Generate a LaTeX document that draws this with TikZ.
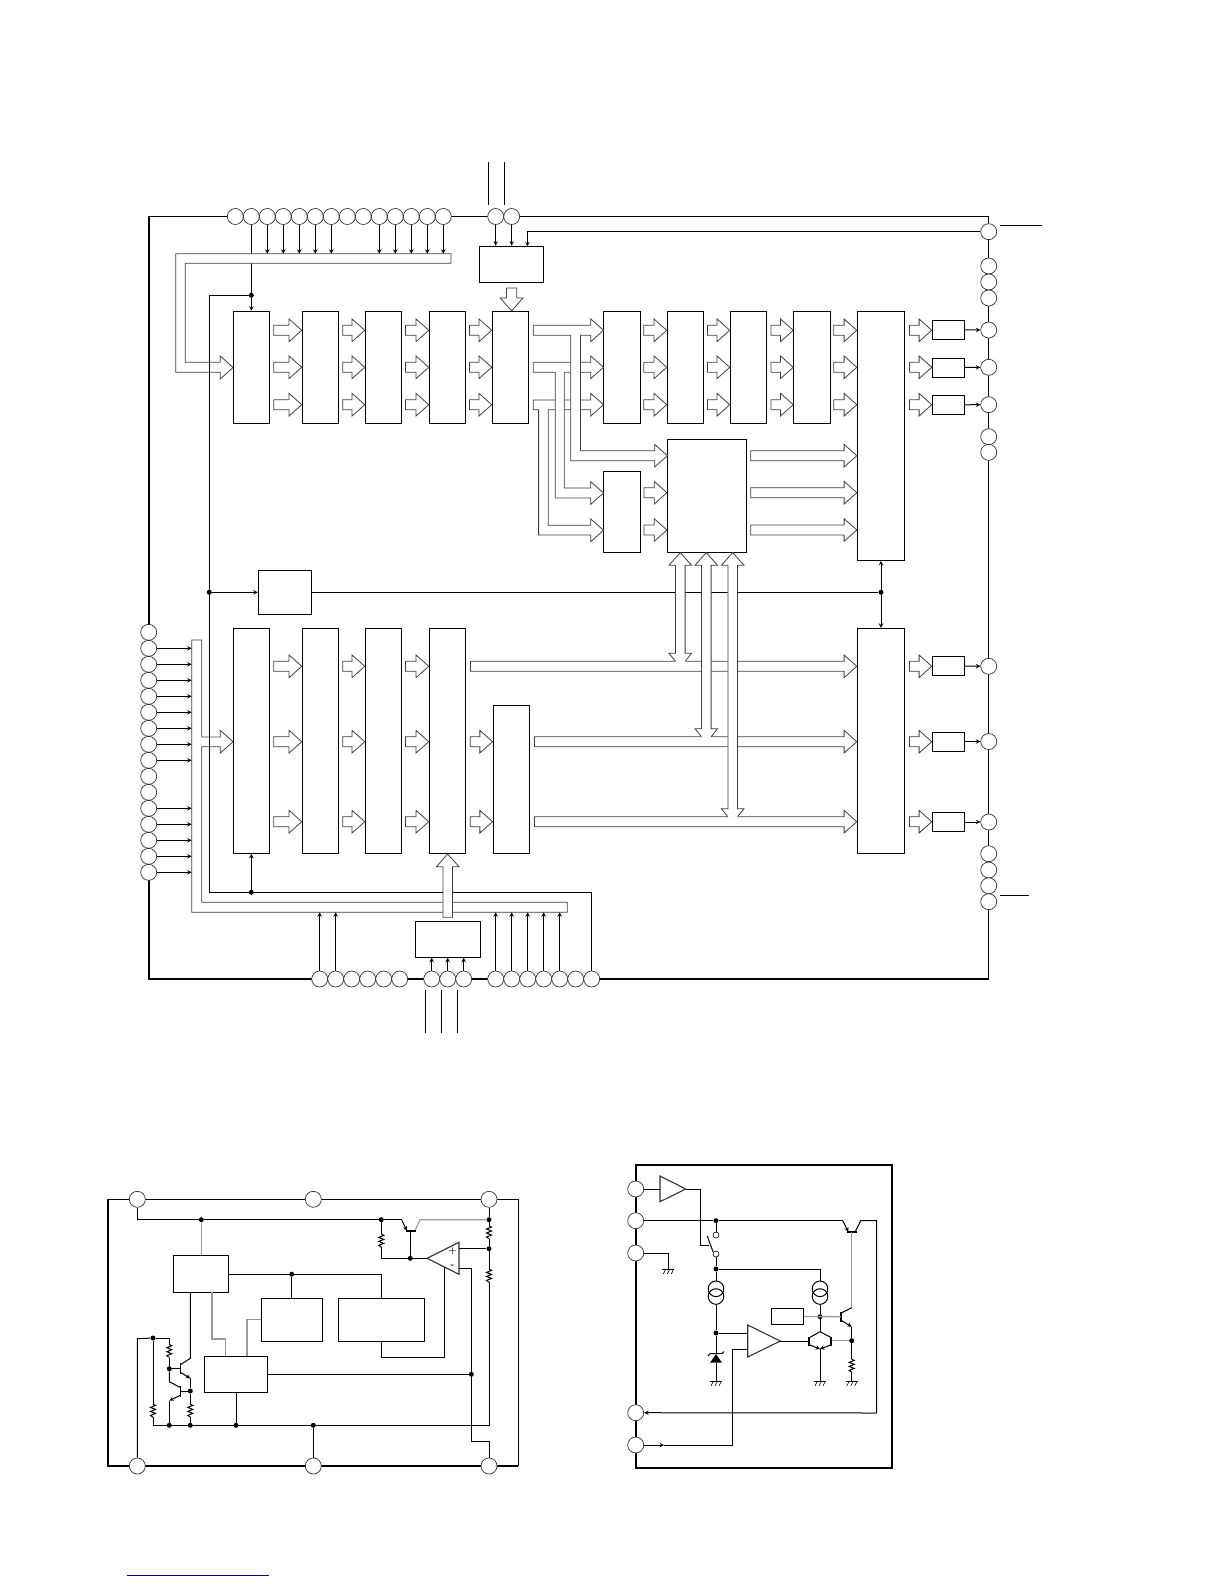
\documentclass[tikz,border=0pt]{standalone}
\usepackage{xcolor}
\usetikzlibrary{positioning}

\newcommand{\busarrow}[3]{%
  \coordinate (rowy) at (0,#2);
  \draw[bus] (#1.west |- rowy) -- ++(-12.7,-11.3) -- ++(0,6.3) -- ++(-#3,0) -- ++(0,10) -- ++(#3,0) -- ++(0,6.3) -- cycle;}
\newcommand{\dualbus}[2]{%
  \fill[white] (#1,552.6) -- ({#1+11.3},565.3) -- ({#1+4.8},565.3) -- ({#1+4.8},{#2-8}) -- ({#1+11.3},{#2-8}) -- ({#1+4.8},{#2+1}) -- ({#1-4.8},{#2+1}) -- ({#1-11.3},{#2-8}) -- ({#1-4.8},{#2-8}) -- ({#1-4.8},565.3) -- ({#1-11.3},565.3) -- cycle;
  \draw[bus] ({#1+4.8},#2) -- ({#1+11.3},{#2-8}) -- ({#1+4.8},{#2-8}) -- ({#1+4.8},565.3) -- ({#1+11.3},565.3) -- (#1,552.6) -- ({#1-11.3},565.3) -- ({#1-4.8},565.3) -- ({#1-4.8},{#2-8}) -- ({#1-11.3},{#2-8}) -- ({#1-4.8},#2);}
\newcommand{\resistor}[2]{%
  \fill[white] ({#1-3.5},{#2-6.5}) rectangle ({#1+3.5},{#2+6.5});
  \draw[wire] (#1,{#2-6.5}) -- ++(2.5,1.2) -- ++(-5,2) -- ++(5,2) -- ++(-5,2) -- ++(5,2) -- ++(-5,2) -- ++(2.5,1.8);}
\newcommand{\earth}[2]{%
  \draw[wire] ({#1-6},#2) -- ({#1+6},#2);
  \foreach \t in {-2.5,1.5,5.5} \draw[wire, line width=.6pt] ({#1+\t},#2) -- ++(-2.5,5);}

\begin{document}
\begin{tikzpicture}[
    x=1pt, y=-1pt,
    block/.style={draw, rectangle, line width=1pt, fill=white, inner sep=0pt},
    topcell/.style={block, minimum width=36.5pt, minimum height=112pt},
    lowcell/.style={block, minimum width=36.5pt, minimum height=225pt},
    outcell/.style={block, minimum width=32.4pt, minimum height=19pt},
    pad/.style={draw=black!80, circle, line width=.7pt, fill=white, inner sep=0pt, minimum size=16pt},
    contact/.style={draw, circle, line width=.6pt, fill=white, inner sep=0pt, minimum size=6pt},
    junction/.style={circle, fill=black, inner sep=0pt, minimum size=5pt},
    wire/.style={line width=1pt},
    feed/.style={wire,->,>=stealth},
    pale/.style={line width=1.1pt, draw=black!40},
    bar/.style={line width=1.6pt},
    bus/.style={draw=black!75, line width=.8pt, fill=white}
]
  \useasboundingbox (0,0) rectangle (1224,1584);

  % Main frame
  \draw[line width=1.2pt] (149,216.5) -- (988.7,216.5) -- (988.7,979);
  \draw[line width=2.4pt] (149,216) -- (149,979) -- (988.7,979);

  % Pads
  \foreach \n in {0,...,13} \node (t\n) [pad] at ({235.3+16*\n},216.5) {};
  \node (u0) [pad] at (495.7,216.5) {};
  \node (u1) [pad] at (511.7,216.5) {};
  \foreach \n/\y in {0/231.7,1/266,2/282,3/298,4/330,5/367.3,6/404.7,7/436.7,8/452.3,9/666.3,10/741.5,11/822,12/853.7,13/870,14/885.7,15/901.7}
    \node (r\n) [pad] at (988.7,\y) {};
  \foreach \n in {0,...,15} \node (l\n) [pad] at (148.7,{632.3+16*\n}) {};
  \foreach \n in {0,...,5} \node (b\n) [pad] at ({319.7+16*\n},979) {};
  \foreach \n in {0,1,2} \node (c\n) [pad] at ({431.7+16*\n},979) {};
  \foreach \n in {0,...,6} \node (e\n) [pad] at ({495.7+16*\n},979) {};

  % Blocks
  \foreach \n/\x in {1/251.3,2/320.5,3/383.5,4/447.5,5/510.5,6/622.1,7/685.5,8/748.5,9/812}
    \node (a\n) [topcell] at (\x,367.3) {};
  \foreach \n/\x in {1/251.3,2/320.5,3/383.5,4/447.5}
    \node (d\n) [lowcell] at (\x,740.8) {};
  \node (d5) [lowcell, minimum height=148pt] at (511.3,779.3) {};
  \node (mixa) [block, minimum width=47.4pt, minimum height=249pt] at (881,435.8) {};
  \node (mixb) [block, minimum width=47.4pt, minimum height=225pt] at (881,740.8) {};
  \node (sela) [block, minimum width=64.4pt, minimum height=36pt] at (511.5,264.3) {};
  \node (selb) [block, minimum width=65.4pt, minimum height=36pt] at (448,939.3) {};
  \node (core) [block, minimum width=79.4pt, minimum height=113pt] at (707.1,495.8) {};
  \node (side) [block, minimum width=37pt, minimum height=81pt] at (622.1,511.8) {};
  \node (clk) [block, minimum width=53.4pt, minimum height=44pt] at (285,592.3) {};
  \foreach \n/\y in {1/329.8,2/367.5,3/404.8,4/666,5/741.5,6/822}
    \node (o\n) [outcell] at (948.5,\y) {};

  % Wires under the buses
  \coordinate (busa) at (0,253.7);
  \coordinate (busb) at (0,263.3);
  \coordinate (busc) at (0,912.3);
  \node (j1) [junction] at (251.3,295.3) {};
  \node (j2) [junction] at (209.3,592.3) {};
  \node (j3) [junction] at (251.3,892.3) {};
  \node (j4) [junction] at (881,592.3) {};
  \draw[wire] (t1) -- (t1 |- busa);
  \draw[wire] (t1 |- busb) -- (j1);
  \draw[feed] (j1) -- (a1);
  \draw[wire] (clk) -- (j4);
  \draw[feed] (j4) -- (mixa);
  \draw[feed] (j4) -- (mixb);

  % Upper bus and left bus
  \draw[bus] (451,253.7) -- (175.7,253.7) -- (175.7,372.3) -- (220.3,372.3) -- (220.3,379) -- (233,367.5) -- (220.3,356) -- (220.3,362.3) -- (185.3,362.3) -- (185.3,263.3) -- (451,263.3) -- cycle;
  \draw[bus] (191.7,640) -- (191.7,912.3) -- (567.3,912.3) -- (567.3,902.3) -- (201.7,902.3) -- (201.7,746.7) -- (220.3,746.7) -- (220.3,753) -- (233,741.7) -- (220.3,730.4) -- (220.3,737) -- (201.7,737) -- (201.7,640) -- cycle;

  % Arrows in the upper row
  \foreach \t/\L in {a2/15.3,a3/9.3,a4/10.6,a5/9.6,a7/10.3,a8/9.6,a9/9.6,mixa/10.3}
    \foreach \y in {330.3,367.3,404.7} { \busarrow{\t}{\y}{\L} }
  \busarrow{o1}{330.3}{9.6}
  \busarrow{o2}{367.3}{9.6}
  \busarrow{o3}{404.7}{9.6}

  % Arrows in the lower row
  \foreach \t/\L in {d2/15.3,d3/9.3,d4/10.6}
    \foreach \y in {666.3,741.7,821.7} { \busarrow{\t}{\y}{\L} }
  \busarrow{d5}{741.7}{9.6}
  \busarrow{d5}{821.7}{9.6}
  \busarrow{o4}{666.3}{9.6}
  \busarrow{o5}{741.7}{9.6}
  \busarrow{o6}{821.7}{9.6}

  % Core arrows
  \busarrow{core}{492.7}{10.3}
  \busarrow{core}{530}{10.3}
  \foreach \y in {455.7,492.7,530} { \busarrow{mixa}{\y}{93.4} }

  % Branching buses
  \draw[bus] (533.3,400) -- (590.8,400) -- (590.8,393.4) -- (603.5,404.7) -- (590.8,416) -- (590.8,409.7) -- (548.3,409.7) -- (548.3,525.3) -- (590.8,525.3) -- (590.8,519) -- (603.5,530.3) -- (590.8,541.6) -- (590.8,535) -- (538.6,535) -- (538.6,409.7) -- (533.3,409.7) -- cycle;
  \draw[bus] (533.3,362.3) -- (590.8,362.3) -- (590.8,356) -- (603.5,367.3) -- (590.8,378.6) -- (590.8,372.3) -- (564.3,372.3) -- (564.3,488) -- (590.8,488) -- (590.8,481.7) -- (603.5,493) -- (590.8,504.3) -- (590.8,498) -- (555.3,498) -- (555.3,372.3) -- (533.3,372.3) -- cycle;
  \draw[bus] (533.3,325.3) -- (590.8,325.3) -- (590.8,319) -- (603.5,330.3) -- (590.8,341.6) -- (590.8,335.3) -- (580.5,335.3) -- (580.5,450.7) -- (654.7,450.7) -- (654.7,444.4) -- (667.4,455.7) -- (654.7,467) -- (654.7,460.7) -- (570.7,460.7) -- (570.7,335.3) -- (533.3,335.3) -- cycle;

  % Long buses and the double ones
  \busarrow{mixb}{666.3}{373.6}
  \busarrow{mixb}{741.7}{309.6}
  \busarrow{mixb}{821.7}{309.6}
  \dualbus{680.3}{661.3}
  \dualbus{706.3}{736.7}
  \dualbus{732.7}{816.7}

  % Selector arrows
  \draw[bus] (506.5,288) -- (516.7,288) -- (516.7,298) -- (522.9,298) -- (511.6,311) -- (500.3,298) -- (506.5,298) -- cycle;
  \draw[wire] (j3) -- (591.7,892.3) -- (e6);
  \draw[bus] (443,917.3) -- (443,866.7) -- (436.4,866.7) -- (447.7,854) -- (459,866.7) -- (452.4,866.7) -- (452.4,917.3) -- cycle;

  % Pad wires
  \foreach \n in {2,...,6,9,10,...,13} \draw[feed] (t\n) -- (t\n |- busa);
  \draw[feed] (u0) -- (u0 |- sela.north);
  \draw[feed] (u1) -- (u1 |- sela.north);
  \coordinate (selin) at (527.4,246.3);
  \draw[feed] (r0) -- (r0 -| selin) -- (selin);
  \foreach \n in {1,...,8,11,12,...,15} \draw[feed] (l\n) -- (191.7,{632.3+16*\n});
  \foreach \n in {0,1} \draw[feed] (b\n) -- (b\n |- busc);
  \foreach \n in {0,...,4} \draw[feed] (e\n) -- (e\n |- busc);
  \foreach \n in {0,1,2} \draw[feed] (c\n) -- (c\n |- selb.south);
  \draw[wire] (209.3,295.3) -- (j1);
  \draw[wire] (209.3,295.3) -- (209.3,892.3) -- (j3);
  \draw[feed] (j2) -- (clk);
  \draw[feed] (j3) -- (d1);
  \draw[feed] (o1) -- (r4);
  \draw[feed] (o2) -- (r5);
  \draw[feed] (o3) -- (r6);
  \draw[feed] (o4) -- (r9);
  \draw[feed] (o5) -- (r10);
  \draw[feed] (o6) -- (r11);

  % Open ends
  \foreach \x in {488.7,504.3} \draw[wire] (\x,162) -- (\x,205);
  \foreach \x in {425.3,441.3,457.3} \draw[wire] (\x,990) -- (\x,1032.7);
  \draw[wire] (1000,225) -- (1042,225);
  \draw[wire] (1000,895.3) -- (1029,895.3);

  % Left regulator
  \draw[line width=1.2pt] (107.7,1199.3) -- (518.3,1199.3) -- (518.3,1465.7);
  \draw[line width=2.2pt] (107.7,1199.3) -- (107.7,1465.7) -- (518.3,1465.7);
  \node (p1) [pad] at (137.3,1199.3) {};
  \node (p2) [pad] at (313.3,1199.3) {};
  \node (p3) [pad] at (489,1199.3) {};
  \node (p4) [pad] at (137.3,1466) {};
  \node (p5) [pad] at (313.3,1466) {};
  \node (p6) [pad] at (489,1466) {};
  \node (ra) [block, minimum width=55pt, minimum height=37pt] at (200.8,1273.8) {};
  \node (rb) [block, minimum width=61pt, minimum height=43pt] at (291.8,1319.8) {};
  \node (rc) [block, minimum width=86pt, minimum height=43pt] at (381.3,1319.8) {};
  \node (rd) [block, minimum width=63pt, minimum height=36pt] at (235.8,1374.3) {};
  \node (q1) [junction] at (201.3,1219.7) {};
  \node (q2) [junction] at (381.3,1219.7) {};
  \node (q3) [junction] at (489,1219.7) {};
  \node (q4) [junction] at (489,1248.7) {};
  \node (q5) [junction] at (410.3,1258.3) {};
  \node (q6) [junction] at (291.7,1274.2) {};
  \node (q7) [junction] at (153,1338) {};
  \node (q8) [junction] at (169.3,1368.7) {};
  \node (q9) [junction] at (190.3,1391) {};
  \node (q10) [junction] at (471.3,1374.3) {};
  \node (q11) [junction] at (169.3,1425.3) {};
  \node (q12) [junction] at (190.3,1425.3) {};
  \node (q13) [junction] at (236,1425.3) {};
  \node (q14) [junction] at (313.3,1425.3) {};
  \coordinate (amptip) at (427,1258.3);
  \draw[line width=1.1pt, draw=black!80] (amptip) -- (459,1242.3) -- (459,1274.3) -- cycle;
  \node (plus) [inner sep=0pt, font=\small\bfseries] at (452.5,1251) {+};
  \node (minus) [inner sep=0pt, font=\small\bfseries] at (452.5,1266) {-};
  \draw[wire] (p1) |- (q1) -- (q2) -- (401.7,1219.7);
  \draw[feed] (401.7,1219.7) -- (406.7,1230.7);
  \draw[pale] (415,1230.7) -- (420,1219.7) -- (q3);
  \draw[bar] (405.7,1230.7) -- (415.7,1230.7);
  \draw[wire] (410.3,1230.7) -- (q5);
  \draw[wire] (p3) -- (q3) -- (q4) -- (489,1425.3) -- (153,1425.3) -- (q7) -- (169.3,1338) -- (q8);
  \draw[wire] (p4) -- (137.3,1338.7) -- (q7);
  \draw[wire] (q2) -- (381.3,1258.3) -- (amptip);
  \draw[wire] (q4) -- (459,1248.7);
  \draw[wire] (459,1268.3) -- (471.3,1268.3) -- (471.3,1441.7) -- (489,1441.7) -- (p6);
  \draw[wire] (q14) -- (p5);
  \draw[pale] (q1) -- (q1 |- ra.north);
  \draw[wire] (ra.east |- q6) -- (q6) -- (381.3,1274.2) -- (rc.north);
  \draw[wire] (q6) -- (q6 |- rb.north);
  \draw[wire] (rc.south) -- (381.3,1357.3) -- (444.3,1357.3) -- (444.3,1267);
  \draw[wire] (rd.east) -- (q10);
  \draw[wire] (q13) -- (q13 |- rd.south);
  \draw[pale] (212,1292.3) -- (212,1339) -- (225.7,1339) -- (225.7,1356.3);
  \draw[pale] (rb.west) -- (247,1319.8) -- (247,1356.3);
  \draw[wire] (190.3,1292.3) -- (190.3,1358.3) -- (181,1364.3);
  \draw[feed] (181,1372.7) -- (190.3,1378.3);
  \draw[wire] (190.3,1378.3) -- (q9) -- (q12);
  \draw[wire] (q8) -- (180.3,1368.7);
  \draw[wire] (q8) -- (169.3,1381.7) -- (180,1387.3);
  \draw[wire] (q9) -- (180.3,1391);
  \draw[feed] (180,1395.3) -- (169.3,1400.7);
  \draw[wire] (169.3,1400.7) -- (q11);
  \draw[bar] (180.3,1363.3) -- (180.3,1374);
  \draw[bar] (180.3,1385.7) -- (180.3,1396.7);
  \resistor{381.3}{1240.7}
  \resistor{489}{1232.3}
  \resistor{489}{1275.7}
  \resistor{169.3}{1351}
  \resistor{153}{1410.7}
  \resistor{190.3}{1410.7}

  % Right regulator
  \draw[line width=2.2pt] (635.7,1165) rectangle (891.7,1468.3);
  \node (w1) [pad] at (635.7,1189) {};
  \node (w2) [pad] at (635.7,1220.7) {};
  \node (w3) [pad] at (635.7,1253) {};
  \node (w4) [pad] at (635.7,1412.7) {};
  \node (w5) [pad] at (635.7,1445) {};
  \node (sa) [contact] at (716,1235) {};
  \node (sb) [contact] at (716,1254) {};
  \node (g1) [junction] at (716,1220.7) {};
  \node (g2) [junction] at (716,1269) {};
  \node (g3) [junction] at (716,1333) {};
  \node (g4) [junction] at (820,1316.7) {};
  \node (g5) [junction] at (851.7,1340.7) {};
  \node (ref) [block, minimum width=32.4pt, minimum height=16pt] at (787.5,1316.3) {};
  \draw[line width=1.1pt, draw=black!80] (660,1176) -- (660,1201.7) -- (685.7,1189) -- cycle;
  \draw[line width=1.1pt, draw=black!80] (747.7,1325) -- (747.7,1357) -- (780.3,1341) -- cycle;
  \draw[wire] (w1) -- (660,1189);
  \draw[wire] (685.7,1189) -- (700.3,1189) -- (700.3,1245.7) -- (709,1245.7);
  \draw[wire] (707.3,1236) -- (713,1251.7);
  \draw[wire] (w2) -- (g1) -- (842.7,1220.7);
  \draw[feed] (842.7,1220.7) -- (848.3,1231.7);
  \draw[wire] (855.3,1231.7) -- (860.7,1220.7) -- (876.7,1220.7) -- (876.7,1413);
  \draw[feed] (876.7,1413) -- (w4);
  \draw[bar] (846.7,1232) -- (856.7,1232);
  \draw[pale] (851.7,1232) -- (851.7,1307.7);
  \draw[wire] (851.7,1307.7) -- (841.7,1312.7);
  \draw[feed] (841.7,1320.7) -- (851.7,1326.7);
  \draw[bar] (841,1311.7) -- (841,1321.7);
  \draw[wire] (851.7,1326.7) -- (g5);
  \draw[wire] (g5) -- (851.7,1380.7);
  \draw[pale] (g5) -- (830.7,1340.7);
  \draw[pale, line width=1.4pt] (ref) -- (841,1316.7);
  \draw[wire] (g1) -- (sa);
  \draw[wire] (sb) -- (g2) -- (716,1281);
  \draw[wire] (g2) -- (820,1269) -- (820,1281);
  \foreach \x in {716,820} {
    \draw[wire] (\x,1288.8) circle (7.8);
    \draw[wire] (\x,1296.5) circle (7.8);
  }
  \draw[wire] (716,1304.3) -- (g3) -- (716,1354);
  \draw[wire] (716,1362.7) -- (716,1380.7);
  \draw[wire] (820,1304.3) -- (g4) -- (820,1331.7);
  \draw[wire] (g3) -- (747.7,1333);
  \draw[wire] (747.7,1349.3) -- (732.7,1349.3) -- (732.7,1445) -- (664,1445);
  \draw[feed] (w5) -- (664,1445);
  \draw[wire] (780.3,1341) -- (809,1341);
  \draw[wire] (810,1337.3) -- (820,1331.7) -- (830.7,1337.3);
  \draw[feed] (810,1345) -- (820,1349);
  \draw[feed] (830.7,1345) -- (820,1349);
  \draw[bar] (809,1336.7) -- (809,1346);
  \draw[bar] (830.7,1336.7) -- (830.7,1346);
  \draw[wire] (820,1349) -- (820,1380.7);
  \fill (710,1362.7) -- (722,1362.7) -- (716,1354) -- cycle;
  \draw[wire] (708,1356) -- (710,1353.7) -- (722,1353.7) -- (724,1351.5);
  \draw[wire] (w3) -- (668.3,1253) -- (668.3,1268.7);
  \earth{668.3}{1269}
  \earth{716}{1381}
  \earth{820}{1381}
  \earth{851.7}{1381}
  \resistor{851.7}{1365.7}

  % Rule at the foot
  \draw[blue!60!black, line width=1pt] (127,1575) -- (269,1575);
\end{tikzpicture}
\end{document}
